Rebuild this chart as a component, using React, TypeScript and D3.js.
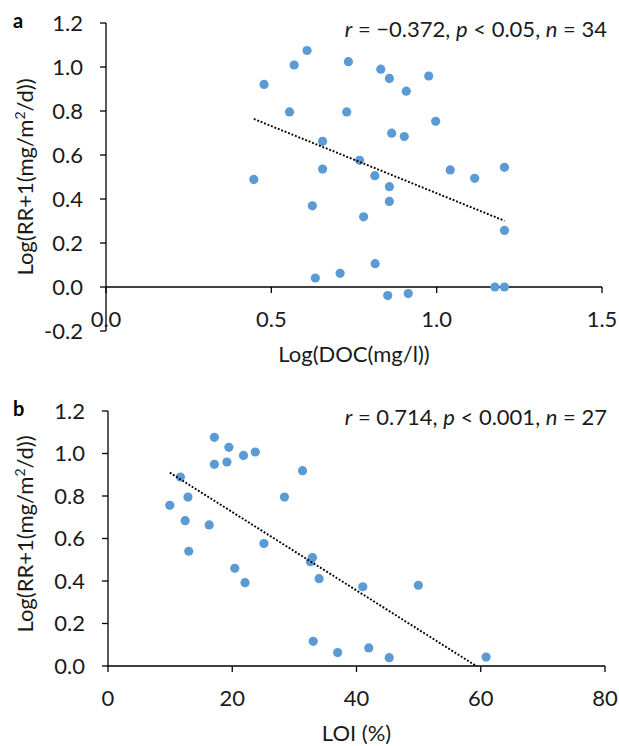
import React from "react";
import * as d3 from "d3";

// Panel a: Log(DOC) vs Log(RR+1)
const docX = [0.447, 0.478, 0.555, 0.569, 0.608, 0.624, 0.633, 0.655, 0.655, 0.708, 0.728, 0.733, 0.767, 0.779, 0.813, 0.814, 0.831, 0.852, 0.857, 0.857, 0.857, 0.864, 0.902, 0.908, 0.914, 0.976, 0.997, 1.041, 1.115, 1.176, 1.205, 1.205, 1.205];
const rrA = [0.489, 0.921, 0.796, 1.009, 1.075, 0.369, 0.041, 0.662, 0.536, 0.062, 0.796, 1.024, 0.576, 0.319, 0.506, 0.106, 0.99, -0.039, 0.948, 0.456, 0.389, 0.699, 0.684, 0.89, -0.03, 0.959, 0.753, 0.532, 0.494, 0.0, 0.544, 0.257, 0.0];
const trendA = { slope: -0.6107, intercept: 1.0369 };
const xTicksA = [0, 0.5, 1.0, 1.5];
const yTicksA = [-0.2, 0, 0.2, 0.4, 0.6, 0.8, 1.0, 1.2];

// Panel b: LOI vs Log(RR+1)
const loiX = [9.95, 11.66, 12.42, 12.87, 13.0, 16.29, 17.12, 17.12, 19.14, 19.46, 20.41, 21.81, 22.06, 23.71, 25.1, 28.4, 31.32, 32.58, 32.9, 33.03, 33.98, 36.96, 41.01, 41.97, 45.26, 49.95, 60.86];
const rrB = [0.756, 0.889, 0.684, 0.795, 0.54, 0.664, 1.076, 0.949, 0.96, 1.029, 0.46, 0.991, 0.392, 1.007, 0.576, 0.795, 0.919, 0.491, 0.51, 0.116, 0.411, 0.063, 0.373, 0.085, 0.039, 0.38, 0.042];
const trendB = { slope: -0.01845, intercept: 1.0936 };
const xTicksB = [0, 20, 40, 60, 80];
const yTicksB = [0, 0.2, 0.4, 0.6, 0.8, 1.0, 1.2];

const FONT = "Lato, 'Open Sans', sans-serif";
const DOT = "#5B9BD5";
const INK = "#1a1a1a";

type PanelProps = {
  id: string;
  letter: string;
  xs: number[];
  ys: number[];
  trend: { slope: number; intercept: number };
  xDomain: [number, number];
  yDomain: [number, number];
  xTicks: number[];
  yTicks: number[];
  xFmt: (v: number) => string;
  xTitle: string;
  stats: { r: string; p: string; n: string };
  left: number;
  right: number;
  top: number;
  bottom: number;
  yTitleCenter: number;
};

function Panel(props: PanelProps) {
  const { id, letter, xs, ys, trend, xDomain, yDomain, xTicks, yTicks, xFmt, xTitle, stats, left, right, top, bottom, yTitleCenter } = props;
  const x = d3.scaleLinear().domain(xDomain).range([left, right]);
  const y = d3.scaleLinear().domain(yDomain).range([bottom, top]);
  const y0 = y(0);
  const minX = d3.min(xs) as number;
  const maxX = d3.max(xs) as number;
  const line = d3
    .line<number>()
    .x((v) => x(v))
    .y((v) => y(trend.slope * v + trend.intercept));
  const fs = 22;
  return (
    <g>
      <defs>
        <clipPath id={`clip-${id}`}>
          <rect x={left} y={top} width={right - left} height={bottom - top} />
        </clipPath>
      </defs>
      {/* y axis */}
      <line x1={left} x2={left} y1={top} y2={bottom} stroke="#000" strokeWidth={1.3} />
      {yTicks.map((t) => (
        <g key={`y${t}`}>
          <line x1={left - 6} x2={left} y1={y(t)} y2={y(t)} stroke="#000" strokeWidth={1.3} />
          <text x={left - 23} y={y(t)} dy="0.36em" textAnchor="end" fontFamily={FONT} fontSize={fs} fill={INK}>
            {t.toFixed(1)}
          </text>
        </g>
      ))}
      {/* x axis at y=0 */}
      <line x1={left} x2={right} y1={y0} y2={y0} stroke="#000" strokeWidth={1.3} />
      {xTicks.map((t) => (
        <g key={`x${t}`}>
          <line x1={x(t)} x2={x(t)} y1={y0} y2={y0 + 6} stroke="#000" strokeWidth={1.3} />
          <text x={x(t)} y={y0 + 40} textAnchor="middle" fontFamily={FONT} fontSize={fs} fill={INK}>
            {xFmt(t)}
          </text>
        </g>
      ))}
      {/* points */}
      {xs.map((v, i) => (
        <circle key={i} cx={x(v)} cy={y(ys[i])} r={4.6} fill={DOT} />
      ))}
      {/* trend line */}
      <path
        d={line([minX, maxX]) || ""}
        fill="none"
        stroke="#000"
        strokeWidth={1.9}
        strokeDasharray="1.9 1.8"
        clipPath={`url(#clip-${id})`}
      />
      {/* x title */}
      <text x={(left + right) / 2} y={y0 + 75} textAnchor="middle" fontFamily={FONT} fontSize={fs} fill={INK}>
        {xTitle}
      </text>
      {/* y title */}
      <text
        transform={`translate(33,${yTitleCenter}) rotate(-90)`}
        textAnchor="middle"
        fontFamily={FONT}
        fontSize={fs}
        fill={INK}
      >
        Log(RR+1(mg/m
        <tspan fontSize={14} dy={-8}>2</tspan>
        <tspan dy={8}>/d))</tspan>
      </text>
      {/* panel letter */}
      <text x={13} y={top + 5} fontFamily={FONT} fontSize={20} fontWeight="bold" fill="#000">
        {letter}
      </text>
      {/* stats */}
      <text x={607} y={top + 14} textAnchor="end" fontFamily={FONT} fontSize={fs} fill={INK}>
        <tspan fontStyle="italic">r</tspan> = {stats.r}, <tspan fontStyle="italic">p</tspan> {stats.p},{" "}
        <tspan fontStyle="italic">n</tspan> = {stats.n}
      </text>
    </g>
  );
}

export default function App() {
  return (
    <svg
      width={619}
      height={746}
      style={{ position: "absolute", left: 0, top: 0, background: "#fff" }}
    >
      <rect width={619} height={746} fill="#fff" />
      <Panel
        id="a"
        letter="a"
        xs={docX}
        ys={rrA}
        trend={trendA}
        xDomain={[0, 1.5]}
        yDomain={[-0.2, 1.2]}
        xTicks={xTicksA}
        yTicks={yTicksA}
        xFmt={(v) => v.toFixed(1)}
        xTitle="Log(DOC(mg/l))"
        stats={{ r: "\u22120.372", p: "< 0.05", n: "34" }}
        left={106}
        right={602}
        top={23}
        bottom={331}
        yTitleCenter={177}
      />
      <Panel
        id="b"
        letter="b"
        xs={loiX}
        ys={rrB}
        trend={trendB}
        xDomain={[0, 80]}
        yDomain={[0, 1.2]}
        xTicks={xTicksB}
        yTicks={yTicksB}
        xFmt={(v) => String(v)}
        xTitle="LOI (%)"
        stats={{ r: "0.714", p: "< 0.001", n: "27" }}
        left={108}
        right={605}
        top={411}
        bottom={666}
        yTitleCenter={534}
      />
    </svg>
  );
}
